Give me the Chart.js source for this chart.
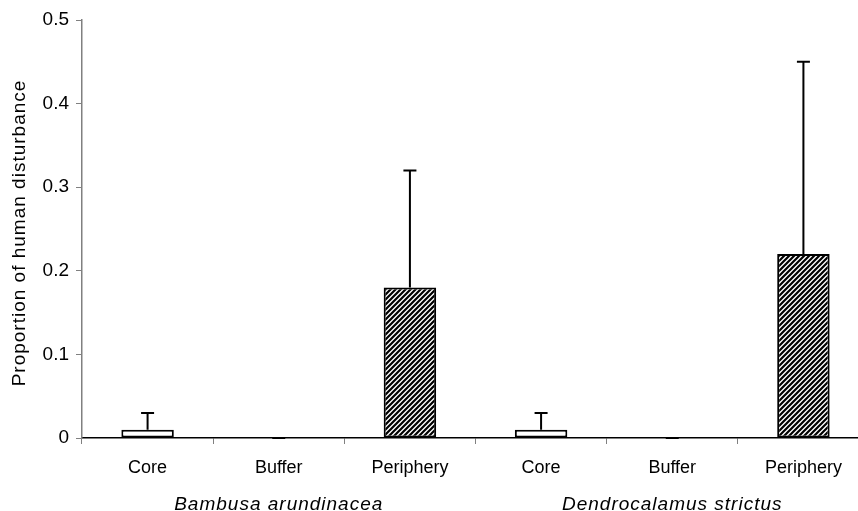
<!DOCTYPE html>
<html>
<head>
<meta charset="utf-8">
<script src="https://cdn.jsdelivr.net/npm/chart.js@4"></script>
<style>
  html, body { margin: 0; padding: 0; background: #fff; overflow: hidden; }
  #wrap { width: 858px; height: 511px; overflow: hidden; }
</style>
</head>
<body>
<div id="wrap"><canvas id="disturbance" width="870" height="511"></canvas></div>
<script>
// values
const categories = ['Core', 'Buffer', 'Periphery', 'Core', 'Buffer', 'Periphery'];
const groups = ['Bambusa arundinacea', 'Dendrocalamus strictus'];
const means = [0.01, 0, 0.18, 0.01, 0, 0.22];
const errors = [0.02, 0, 0.14, 0.02, 0, 0.23];
const yTicks = [0, 0.1, 0.2, 0.3, 0.4, 0.5];
const yTitle = 'Proportion of human disturbance';

const FONT = "'Liberation Sans', Arial, sans-serif";

// diagonal hatch for the periphery bars
function makeHatch() {
  const s = 5;
  const c = document.createElement('canvas');
  c.width = s; c.height = s;
  const g = c.getContext('2d');
  g.fillStyle = '#fff';
  g.fillRect(0, 0, s, s);
  g.strokeStyle = '#000';
  g.lineWidth = 2.2;
  g.beginPath();
  g.moveTo(-1, s + 1); g.lineTo(s + 1, -1);
  g.moveTo(-1, 1); g.lineTo(1, -1);
  g.moveTo(s - 1, s + 1); g.lineTo(s + 1, s - 1);
  g.stroke();
  return g.createPattern(c, 'repeat');
}
const ctx = document.getElementById('disturbance').getContext('2d');
const hatch = makeHatch();
const fills = categories.map(c => c === 'Periphery' ? hatch : '#ffffff');

// upward-only error bars
const errorBars = {
  id: 'errorBars',
  afterDatasetsDraw(chart) {
    const meta = chart.getDatasetMeta(0);
    const y = chart.scales.y;
    const c = chart.ctx;
    c.save();
    c.strokeStyle = '#000';
    c.lineWidth = 2;
    meta.data.forEach((bar, i) => {
      const y0 = y.getPixelForValue(means[i]);
      const y1 = y.getPixelForValue(means[i] + errors[i]);
      c.beginPath();
      c.moveTo(bar.x, y0);
      c.lineTo(bar.x, y1);
      c.moveTo(bar.x - 6.5, y1);
      c.lineTo(bar.x + 6.5, y1);
      c.stroke();
    });
    c.restore();
  }
};

// y title and the species names under the categories
const extraText = {
  id: 'extraText',
  afterDraw(chart) {
    const c = chart.ctx;
    const x = chart.scales.x;
    c.save();
    c.fillStyle = '#000';
    c.letterSpacing = '1px';
    c.textAlign = 'center';
    c.textBaseline = 'alphabetic';
    c.font = 'italic 19px ' + FONT;
    groups.forEach((g, i) => {
      c.fillText(g, x.getPixelForValue(i * 3 + 1), 510);
    });
    c.translate(25, 233);
    c.rotate(-Math.PI / 2);
    c.font = '19px ' + FONT;
    c.fillText(yTitle, 0, 0);
    c.restore();
  }
};

new Chart(ctx, {
  type: 'bar',
  data: {
    labels: categories,
    datasets: [{
      data: means,
      backgroundColor: fills,
      borderColor: '#000',
      borderWidth: 2,
      borderSkipped: false,
      barPercentage: 0.4,
      categoryPercentage: 1.0
    }]
  },
  options: {
    responsive: false,
    animation: false,
    events: [],
    layout: { padding: { top: 20, right: 1, left: 0, bottom: 0 } },
    plugins: {
      legend: { display: false },
      tooltip: { enabled: false }
    },
    scales: {
      x: {
        afterFit: s => { s.height = 73; },
        border: { color: '#000', width: 1.5 },
        grid: {
          drawOnChartArea: false,
          drawTicks: true,
          tickLength: 6,
          color: '#808080',
          offset: true
        },
        ticks: {
          color: '#000',
          font: { family: FONT, size: 18 },
          padding: 13,
          maxRotation: 0
        }
      },
      y: {
        min: 0,
        max: 0.5,
        afterFit: s => { s.width = 82; },
        afterBuildTicks: s => { s.ticks = yTicks.map(v => ({ value: v })); },
        border: { color: '#808080', width: 1.5 },
        grid: {
          drawOnChartArea: false,
          drawTicks: true,
          tickLength: 6,
          color: '#808080'
        },
        ticks: {
          color: '#000',
          font: { family: FONT, size: 19 },
          padding: 7,
          callback: v => v === 0 ? '0' : v.toFixed(1)
        }
      }
    }
  },
  plugins: [errorBars, extraText]
});
</script>
</body>
</html>
